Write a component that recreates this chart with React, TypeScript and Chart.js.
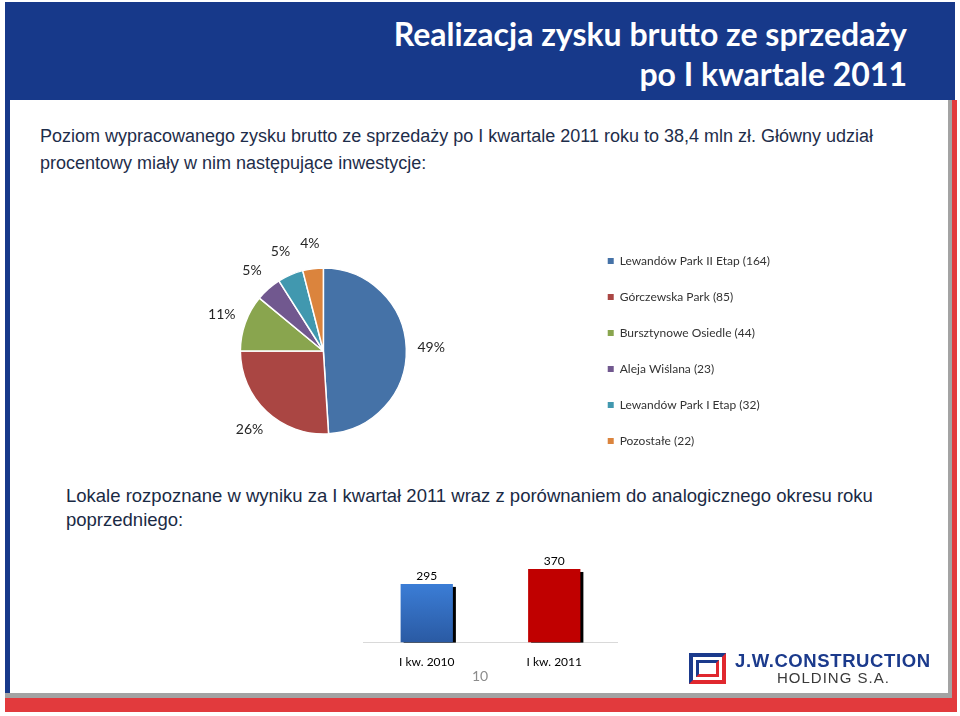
import React, { useEffect, useRef } from "react";
import { Chart, registerables } from "chart.js";
Chart.register(...registerables);

// ---- data ----
const pieCategories = [
  "Lewandów Park II Etap (164)",
  "Górczewska Park (85)",
  "Bursztynowe Osiedle (44)",
  "Aleja Wiślana (23)",
  "Lewandów Park I Etap (32)",
  "Pozostałe (22)",
];
const pieShares = [49, 26, 11, 5, 5, 4];
const pieColors = ["#4572a7", "#aa4643", "#89a54e", "#71588f", "#4198af", "#db843d"];

const barCategories = ["I kw. 2010", "I kw. 2011"];
const barValues = [295, 370];
const barColors = ["#3b7dd6", "#c00000"];
const barGradientBottom = "#2a5aa3";

const BLUE = "#17398a";
const RED = "#e23a3d";

const pieLabelPlugin = {
  id: "pieLabels",
  afterDatasetsDraw(chart: any) {
    const ctx = chart.ctx;
    const meta = chart.getDatasetMeta(0);
    ctx.save();
    ctx.font = "14px Lato";
    ctx.fillStyle = "#262626";
    ctx.textAlign = "center";
    ctx.textBaseline = "middle";
    meta.data.forEach((arc: any, i: number) => {
      const p = arc.getProps(["x", "y", "startAngle", "endAngle", "outerRadius"], true);
      const mid = (p.startAngle + p.endAngle) / 2;
      const d = p.outerRadius * 1.3;
      ctx.fillText(pieShares[i] + "%", p.x + Math.cos(mid) * d, p.y + Math.sin(mid) * d);
    });
    ctx.restore();
  },
};

const barShadowPlugin = {
  id: "barShadow",
  beforeDatasetsDraw(chart: any) {
    const ctx = chart.ctx;
    const meta = chart.getDatasetMeta(0);
    ctx.save();
    ctx.fillStyle = "#000000";
    meta.data.forEach((bar: any) => {
      const p = bar.getProps(["x", "y", "base", "width"], true);
      ctx.fillRect(p.x - p.width / 2 + 3, p.y + 3, p.width, p.base - p.y - 3);
    });
    ctx.restore();
  },
  afterDatasetsDraw(chart: any) {
    const ctx = chart.ctx;
    const meta = chart.getDatasetMeta(0);
    ctx.save();
    ctx.font = "12px Lato";
    ctx.fillStyle = "#000000";
    ctx.textAlign = "center";
    ctx.textBaseline = "bottom";
    meta.data.forEach((bar: any, i: number) => {
      const p = bar.getProps(["x", "y"], true);
      ctx.fillText(String(barValues[i]), p.x, p.y - 2);
    });
    ctx.restore();
  },
};

const abs = (s: React.CSSProperties): React.CSSProperties => ({ position: "absolute", ...s });

export default function App() {
  const pieRef = useRef<HTMLCanvasElement>(null);
  const barRef = useRef<HTMLCanvasElement>(null);

  useEffect(() => {
    document.body.style.margin = "0";
    const pie = new Chart(pieRef.current!, {
      type: "pie",
      data: {
        labels: pieCategories,
        datasets: [
          {
            data: pieShares,
            backgroundColor: pieColors,
            borderColor: "#ffffff",
            borderWidth: 1.5,
          },
        ],
      },
      options: {
        responsive: false,
        animation: false,
        radius: 83,
        layout: { padding: 0 },
        plugins: {
          legend: {
            position: "right",
            labels: {
              boxWidth: 6,
              boxHeight: 6,
              padding: 24,
              color: "#333333",
              font: { family: "Lato", size: 12 },
              generateLabels: (chart: any) => {
                const base = (Chart as any).overrides.pie.plugins.legend.labels.generateLabels(chart);
                return base.map((l: any) => ({ ...l, lineWidth: 0, strokeStyle: l.fillStyle }));
              },
            },
          },
          tooltip: { enabled: false },
        },
      } as any,
      plugins: [pieLabelPlugin],
    });

    const bar = new Chart(barRef.current!, {
      type: "bar",
      data: {
        labels: barCategories,
        datasets: [
          {
            data: barValues,
            categoryPercentage: 1,
            barPercentage: 0.41,
            borderWidth: 0,
            backgroundColor: (c: any) => {
              const chart = c.chart;
              const i = c.dataIndex;
              if (i !== 0 || !chart.chartArea) return barColors[i];
              const ys = chart.scales.y;
              const top = ys.getPixelForValue(barValues[i]);
              const bottom = ys.getPixelForValue(0);
              const g = chart.ctx.createLinearGradient(0, top, 0, bottom);
              g.addColorStop(0, barColors[0]);
              g.addColorStop(1, barGradientBottom);
              return g;
            },
          },
        ],
      },
      options: {
        responsive: false,
        animation: false,
        layout: { padding: { top: 20, left: 0, right: 0, bottom: 0 } },
        scales: {
          y: { display: false, min: 0, max: 400 },
          x: {
            grid: { display: false, drawTicks: false },
            border: { display: true, color: "#d9d9d9", width: 1 },
            ticks: { padding: 12, color: "#000000", font: { family: "Lato", size: 12 } },
          },
        },
        plugins: { legend: { display: false }, tooltip: { enabled: false } },
      } as any,
      plugins: [barShadowPlugin],
    });

    return () => {
      pie.destroy();
      bar.destroy();
    };
  }, []);

  const para: React.CSSProperties = {
    fontFamily: "'Liberation Sans', Arial, sans-serif",
    color: "#1e2d4a",
    whiteSpace: "nowrap",
  };

  const title: React.CSSProperties = {
    right: 53,
    fontFamily: "Lato, sans-serif",
    fontWeight: 700,
    fontSize: 32,
    lineHeight: "32px",
    color: "#ffffff",
    whiteSpace: "nowrap",
    textAlign: "right",
  };

  return (
    <div style={abs({ left: 0, top: 0, width: 960, height: 716, overflow: "hidden", background: "#ffffff" })}>
      {/* frame */}
      <div style={abs({ left: 5, top: 2, width: 950, height: 98, background: BLUE })} />
      <div style={abs({ left: 5, top: 100, width: 5, height: 594, background: BLUE })} />
      <div style={abs({ left: 948, top: 100, width: 4, height: 598, background: "#a3a3a3" })} />
      <div style={abs({ left: 952, top: 100, width: 5, height: 612, background: RED })} />
      <div style={abs({ left: 5, top: 693, width: 947, height: 5, background: "#a3a3a3" })} />
      <div style={abs({ left: 5, top: 698, width: 952, height: 14, background: RED })} />

      {/* title */}
      <div style={abs({ ...title, top: 18 })}>Realizacja zysku brutto ze sprzedaży</div>
      <div style={abs({ ...title, top: 58 })}>po I kwartale 2011</div>

      {/* paragraph 1 */}
      <div style={abs({ ...para, left: 40, top: 123, fontSize: 18, lineHeight: "27px" })}>
        Poziom wypracowanego zysku brutto ze sprzedaży po I kwartale 2011 roku to 38,4 mln zł. Główny udział
        <br />
        procentowy miały w nim następujące inwestycje:
      </div>

      {/* pie chart */}
      <canvas ref={pieRef} width={717} height={260} style={abs({ left: 63, top: 221, width: 717, height: 260 })} />

      {/* paragraph 2 */}
      <div style={abs({ ...para, left: 66, top: 484, fontSize: 18.5, lineHeight: "24px", color: "#1a2a44" })}>
        Lokale rozpoznane w wyniku za I kwartał 2011 wraz z porównaniem do analogicznego okresu roku
        <br />
        poprzedniego:
      </div>

      {/* bar chart */}
      <canvas ref={barRef} width={255} height={138} style={abs({ left: 363, top: 543, width: 255, height: 138 })} />

      {/* page number */}
      <div style={abs({ left: 472, top: 669, fontFamily: "Lato, sans-serif", fontSize: 14, lineHeight: "14px", color: "#8c8c8c" })}>
        10
      </div>

      {/* logo */}
      <div
        style={abs({
          left: 689,
          top: 653,
          width: 37,
          height: 31,
          boxSizing: "border-box",
          borderStyle: "solid",
          borderWidth: 4,
          borderTopColor: "#1b3a8c",
          borderLeftColor: "#1b3a8c",
          borderRightColor: "#e0282e",
          borderBottomColor: "#e0282e",
          padding: 3,
        })}
      >
        <div
          style={{
            width: "100%",
            height: "100%",
            boxSizing: "border-box",
            borderStyle: "solid",
            borderWidth: 3,
            borderTopColor: "#1b3a8c",
            borderLeftColor: "#1b3a8c",
            borderRightColor: "#e0282e",
            borderBottomColor: "#e0282e",
          }}
        />
      </div>
      <div
        style={abs({
          left: 735,
          top: 652,
          fontFamily: "'Liberation Sans', Arial, sans-serif",
          fontWeight: 700,
          fontSize: 18.5,
          lineHeight: "18.5px",
          letterSpacing: 0.6,
          color: "#1b3a8c",
          whiteSpace: "nowrap",
        })}
      >
        J.W.CONSTRUCTION
      </div>
      <div
        style={abs({
          left: 777,
          top: 670,
          fontFamily: "'Liberation Sans', Arial, sans-serif",
          fontSize: 15,
          lineHeight: "15px",
          letterSpacing: 1,
          color: "#3a3a3a",
          whiteSpace: "nowrap",
        })}
      >
        HOLDING S.A.
      </div>
    </div>
  );
}
